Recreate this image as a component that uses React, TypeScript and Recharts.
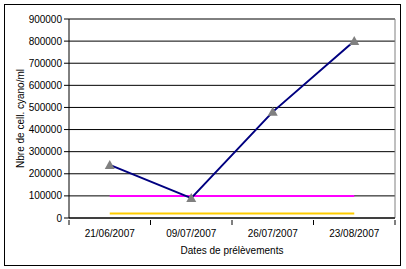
import {
  ComposedChart,
  Line,
  XAxis,
  YAxis,
  CartesianGrid,
  Label,
} from "recharts";

const dates = ["21/06/2007", "09/07/2007", "26/07/2007", "23/08/2007"];
const cyanoCells = [240000, 90000, 480000, 800000];
const seuilAlerte = [100000, 100000, 100000, 100000];
const seuilVigilance = [20000, 20000, 20000, 20000];
const yTicks = [0, 100000, 200000, 300000, 400000, 500000, 600000, 700000, 800000, 900000];

const data = dates.map((d, i) => ({
  date: d,
  cyano: cyanoCells[i],
  alerte: seuilAlerte[i],
  vigilance: seuilVigilance[i],
}));

const W = 406;
const H = 269;
const MARGIN = { top: 19, right: 11, left: 0, bottom: 0 };
const Y_WIDTH = 69;
const PLOT_W = W - MARGIN.left - MARGIN.right - Y_WIDTH;
const STEP = PLOT_W / dates.length;
const FONT = "'Liberation Sans', Arial, sans-serif";

const Triangle = (props: any) => {
  const { cx, cy } = props;
  if (cx == null || cy == null) return null;
  return (
    <polygon
      points={`${cx},${cy - 5} ${cx - 5},${cy + 4} ${cx + 5},${cy + 4}`}
      fill="#808080"
      stroke="none"
    />
  );
};

const DateTick = (props: any) => {
  const { x, y, payload, index } = props;
  const left = x - STEP / 2;
  return (
    <g>
      <line x1={left} y1={y - 6} x2={left} y2={y - 1} stroke="#000" />
      {index === dates.length - 1 && (
        <line x1={x + STEP / 2} y1={y - 6} x2={x + STEP / 2} y2={y - 1} stroke="#000" />
      )}
      <text x={x} y={y + 11} textAnchor="middle" fontSize={10} fill="#000" fontFamily={FONT}>
        {payload.value}
      </text>
    </g>
  );
};

export default function App() {
  return (
    <div style={{ position: "absolute", left: 0, top: 0, width: W, height: H, background: "#fff" }}>
      <div
        style={{
          position: "absolute",
          left: 4,
          top: 4,
          width: 395,
          height: 260,
          border: "1px solid #000",
        }}
      />
      <div style={{ position: "absolute", left: 0, top: 0 }}>
        <ComposedChart width={W} height={H} data={data} margin={MARGIN}>
          <CartesianGrid vertical={false} stroke="#000" />
          <CartesianGrid
            stroke="#808080"
            horizontalCoordinatesGenerator={({ offset }: any) => [offset.top]}
            verticalCoordinatesGenerator={({ offset }: any) => [offset.left + offset.width]}
          />
          <XAxis
            dataKey="date"
            height={51}
            padding={{ left: STEP / 2, right: STEP / 2 }}
            tickLine={false}
            axisLine={{ stroke: "#000" }}
            tick={<DateTick />}
            interval={0}
          >
            <Label
              value="Dates de prélèvements"
              position="insideBottom"
              offset={15}
              style={{ fontSize: 10, fill: "#000", fontFamily: FONT }}
            />
          </XAxis>
          <YAxis
            width={Y_WIDTH}
            domain={[0, 900000]}
            ticks={yTicks}
            interval={0}
            tickFormatter={(v: number) => String(v)}
            tick={{ fontSize: 10, fill: "#000", fontFamily: FONT }}
            tickLine={{ stroke: "#000" }}
            axisLine={{ stroke: "#000" }}
            tickSize={5}
            tickMargin={2}
          >
            <Label
              value="Nbre de cell. cyano/ml"
              angle={-90}
              position="center"
              dx={-14}
              style={{ fontSize: 10, fill: "#000", fontFamily: FONT, textAnchor: "middle" }}
            />
          </YAxis>
          <Line
            dataKey="vigilance"
            stroke="#FFCC00"
            strokeWidth={2}
            dot={false}
            isAnimationActive={false}
          />
          <Line
            dataKey="alerte"
            stroke="#FF00FF"
            strokeWidth={2}
            dot={false}
            isAnimationActive={false}
          />
          <Line
            dataKey="cyano"
            stroke="#000080"
            strokeWidth={2}
            dot={<Triangle />}
            isAnimationActive={false}
          />
        </ComposedChart>
      </div>
    </div>
  );
}
